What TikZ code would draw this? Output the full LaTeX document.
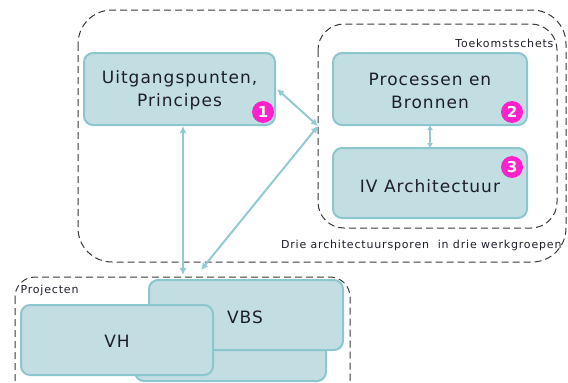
\documentclass[tikz,border=0pt]{standalone}
\usepackage{fontspec}
\setmainfont{DejaVu Sans}
\usetikzlibrary{arrows.meta}
\definecolor{boxfill}{HTML}{C2DEE3}
\definecolor{boxline}{HTML}{8CC6CF}
\definecolor{linkcol}{HTML}{93CAD2}
\definecolor{frame}{HTML}{3A3A3A}
\definecolor{badge}{HTML}{FF22CC}
\definecolor{ink}{HTML}{1E1E2A}
\newfontfamily\blockfont[LetterSpace=6]{DejaVu Sans}
\newfontfamily\tagfont[LetterSpace=7.5]{DejaVu Sans}
\tikzset{
  x=1pt, y=-1pt,
  block/.style={draw=boxline, fill=boxfill, line width=2pt, rounded corners=9pt},
  blocktext/.style={text=ink, font=\blockfont\fontsize{17}{23}\selectfont, align=center},
  group/.style={draw=frame, line width=1pt, dash pattern=on 7pt off 4pt},
  tag/.style={text=ink, font=\tagfont\fontsize{11}{13}\selectfont},
  mark1/.style={circle, fill=badge, text=white, inner sep=0pt, minimum size=22pt,
    font=\bfseries\fontsize{15}{15}\selectfont},
  link/.style={draw=linkcol, line width=2pt, {Latex[length=7pt,width=7pt]}-{Latex[length=7pt,width=7pt]}}
}
\begin{document}
\begin{tikzpicture}
\useasboundingbox (0,0) rectangle (568,383);
% workgroup frames
\draw[group, rounded corners=34pt] (78,10) rectangle (566,262);
\draw[group, rounded corners=26pt] (318,24) rectangle (557,228);
\node[tag, anchor=east] (lblT) at (557,43) {Toekomstschets};
\node[tag, anchor=east] (lblD) at (565,245) {Drie architectuursporen\ \ in drie werkgroepen};
% projects frame
\draw[group, rounded corners=20pt] (15,277) rectangle (350,400);
\node[tag, anchor=west] (lblP) at (17,290) {Projecten};
% architecture tracks
\path[block] (84,53) rectangle (275,125);
\node[blocktext] (up) at (179.5,90) {Uitgangspunten,\\Principes};
\path[block] (333,53) rectangle (527,125);
\node[blocktext] (pb) at (430,91) {Processen en\\Bronnen};
\path[block] (333,148) rectangle (527,218);
\node[blocktext] (iv) at (430,186) {IV Architectuur};
\node[mark1] (m1) at (263,112) {1};
\node[mark1] (m2) at (512,112) {2};
\node[mark1] (m3) at (512,167) {3};
% project boxes
\path[block] (135,305) rectangle (326,381);
\path[block] (149,280) rectangle (343,350);
\node[blocktext] (vbs) at (245,317) {VBS};
\path[block] (21,305) rectangle (213,375);
\node[blocktext] (vh) at (117,341) {VH};
% connectors
\coordinate (hub) at (318,126);
\coordinate (upB) at (183,126);
\coordinate (prT) at (183,275);
\coordinate (prD) at (201,270);
\coordinate (upR) at (277,89);
\coordinate (pbB) at (430,125);
\coordinate (ivT) at (430,148);
\draw[link] (upB) -- (prT);
\draw[link] (prD) -- (hub);
\draw[link] (upR) -- (hub);
\draw[link, line width=1.6pt, {Latex[length=5pt,width=6pt]}-{Latex[length=5pt,width=6pt]}] (pbB) -- (ivT);
\end{tikzpicture}
\end{document}
